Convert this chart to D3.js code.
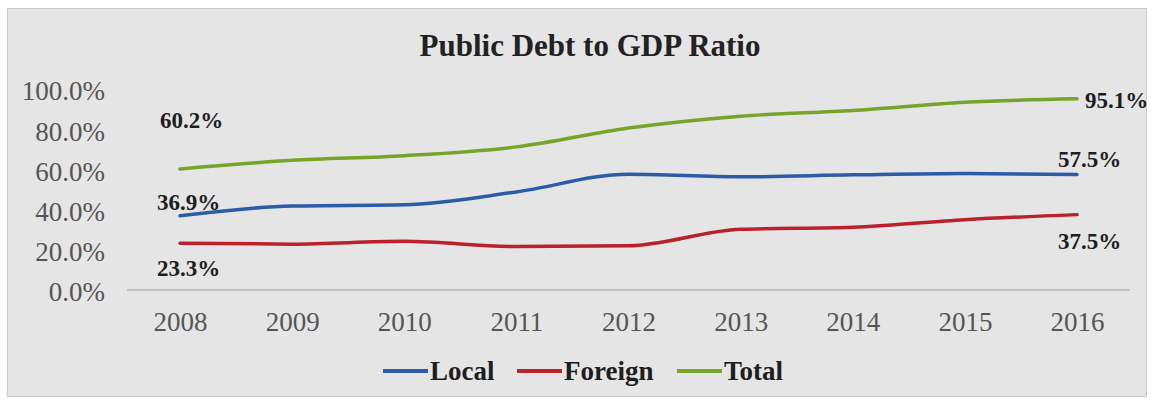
<!doctype html>
<html lang="en">
<head>
    <meta charset="UTF-8">
    <script type="text/javascript" src="https://cdn.jsdelivr.net/npm/d3@7"></script>
    <style>
        body {
            margin: 0;
            background-color: white;
        }
        .panel {
            fill: rgb(229,229,229);
            stroke: rgb(200,200,200);
        }
        .title {
            font: bold 31px "Liberation Serif", serif;
            fill: #222;
        }
        .axis text {
            font: 27px "Liberation Serif", serif;
            fill: #555;
        }
        .axis path {
            stroke: #b5b5b5;
            stroke-width: 1.5;
        }
        .dataLabel {
            font: bold 23px "Liberation Serif", serif;
            fill: #1e1e1e;
        }
        .legend text {
            font: bold 27px "Liberation Serif", serif;
            fill: #1e1e1e;
        }
    </style>
</head>
<body>
<svg id="chart"></svg>
<script type="text/javascript">
    // data
    let years = ["2008", "2009", "2010", "2011", "2012", "2013", "2014", "2015", "2016"];
    let local = [36.9, 41.8, 42.4, 48.8, 57.6, 56.3, 57.3, 58.0, 57.5];
    let foreign = [23.3, 22.8, 24.2, 21.6, 22.0, 30.2, 31.2, 35.0, 37.5];
    let total = [60.2, 64.5, 66.8, 71.2, 80.6, 86.5, 89.3, 93.4, 95.1];
    let seriesNames = ["Local", "Foreign", "Total"];
    let yTicks = [0, 20, 40, 60, 80, 100];

    let width = 1152, height = 403;
    let colors = {Local: "#2b5ca8", Foreign: "#b9212c", Total: "#78a42a"};

    let svg = d3.select("#chart")
        .attr("width", width)
        .attr("height", height);

    // grey panel
    svg.append("rect")
        .attr("class", "panel")
        .attr("x", 7.5).attr("y", 8.5)
        .attr("width", 1139).attr("height", 388);

    svg.append("text")
        .attr("class", "title")
        .attr("x", 590).attr("y", 56)
        .attr("text-anchor", "middle")
        .text("Public Debt to GDP Ratio");

    let xScale = d3.scalePoint()
        .domain(years)
        .range([180, 1077]);
    let yScale = d3.scaleLinear()
        .domain([0, 100])
        .range([290, 89]);

    // x axis: only the baseline plus labels
    let xAxis = svg.append("g")
        .attr("class", "axis")
        .attr("transform", "translate(0,290)")
        .call(d3.axisBottom(xScale).tickSize(0).tickPadding(22));
    xAxis.select(".domain").attr("d", "M127,0H1130");
    xAxis.selectAll(".tick text").attr("dy", "0.71em");

    // y axis labels, no line
    let yAxis = svg.append("g")
        .attr("class", "axis")
        .attr("transform", "translate(105,0)")
        .call(d3.axisLeft(yScale).tickValues(yTicks).tickSize(0).tickPadding(0)
            .tickFormat(function (d) { return d.toFixed(1) + "%"; }));
    yAxis.select(".domain").remove();
    yAxis.selectAll(".tick text").attr("dy", "0.4em");

    let seriesData = [
        {name: "Local", values: local},
        {name: "Foreign", values: foreign},
        {name: "Total", values: total}
    ];

    let line = d3.line()
        .x(function (d, i) { return xScale(years[i]); })
        .y(function (d) { return yScale(d); })
        .curve(d3.curveMonotoneX);

    svg.selectAll(".series")
        .data(seriesData)
        .enter().append("path")
        .attr("class", "series")
        .attr("d", function (d) { return line(d.values); })
        .attr("fill", "none")
        .attr("stroke", function (d) { return colors[d.name]; })
        .attr("stroke-width", 3.5)
        .attr("stroke-linecap", "round");

    // end labels: [series, index, dx, dy, anchor]
    let labelPlaces = [
        ["Total", 0, -20, -41, "start"],
        ["Local", 0, -23, -6, "start"],
        ["Foreign", 0, -23, 33, "start"],
        ["Total", 8, 8, 9, "start"],
        ["Local", 8, -19, -7, "start"],
        ["Foreign", 8, -19, 34, "start"]
    ];
    svg.selectAll(".dataLabel")
        .data(labelPlaces)
        .enter().append("text")
        .attr("class", "dataLabel")
        .attr("x", function (d) { return xScale(years[d[1]]) + d[2]; })
        .attr("y", function (d) {
            let s = seriesData.find(function (e) { return e.name == d[0]; });
            return yScale(s.values[d[1]]) + d[3];
        })
        .attr("text-anchor", function (d) { return d[4]; })
        .text(function (d) {
            let s = seriesData.find(function (e) { return e.name == d[0]; });
            return s.values[d[1]].toFixed(1) + "%";
        });

    // legend
    let legendX = [383, 517, 677];
    let legend = svg.selectAll(".legend")
        .data(seriesNames)
        .enter().append("g")
        .attr("class", "legend")
        .attr("transform", function (d, i) { return "translate(" + legendX[i] + ",371)"; });
    legend.append("line")
        .attr("x1", 0).attr("x2", 45)
        .attr("stroke", function (d) { return colors[d]; })
        .attr("stroke-width", 4);
    legend.append("text")
        .attr("x", 47).attr("y", 9)
        .text(function (d) { return d; });
</script>
</body>
</html>
